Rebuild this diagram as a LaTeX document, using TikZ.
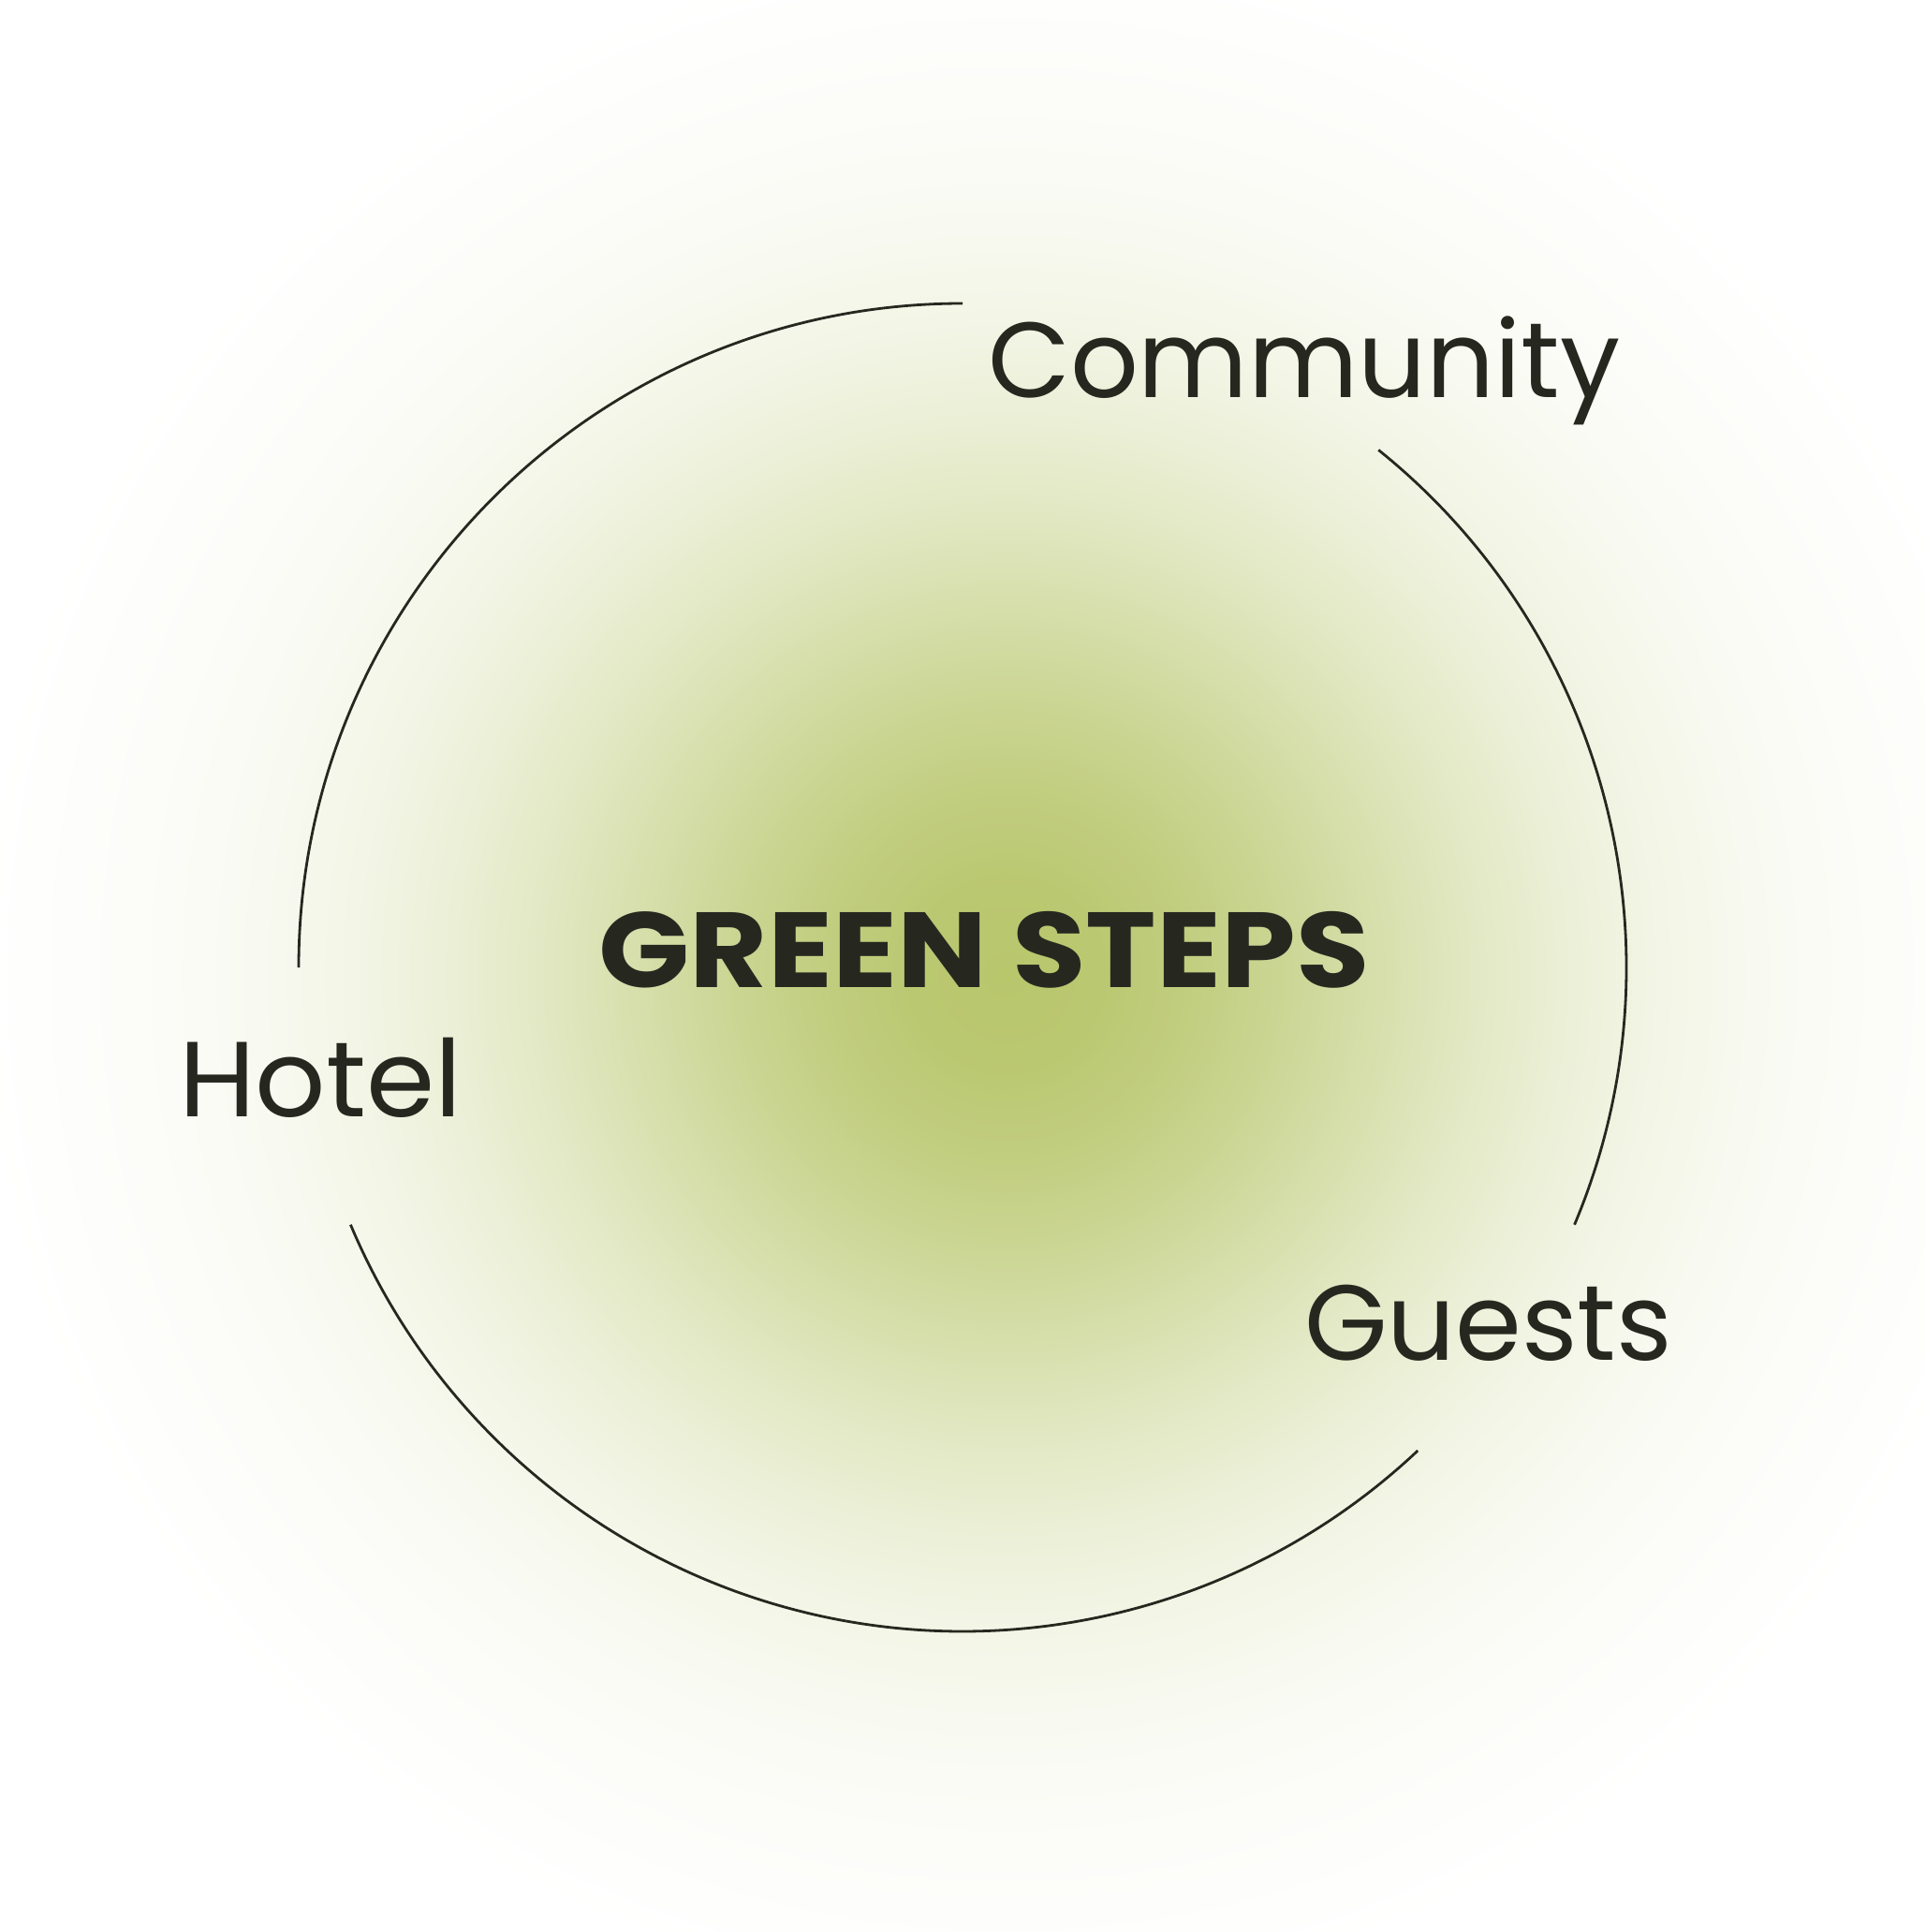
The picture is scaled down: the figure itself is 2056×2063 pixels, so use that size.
\documentclass[tikz,border=0pt]{standalone}
\usepackage{fontspec}
\setmainfont{Poppins}
\definecolor{ink}{RGB}{38,40,32}
\pgfdeclareradialshading{glow}{\pgfpoint{0bp}{0bp}}{%
rgb(0bp)=(0.7216,0.7765,0.4235);
rgb(2.273bp)=(0.7316,0.7845,0.4443);
rgb(4.545bp)=(0.7592,0.8067,0.5013);
rgb(6.818bp)=(0.7993,0.8389,0.5843);
rgb(9.091bp)=(0.8441,0.8748,0.6772);
rgb(11.364bp)=(0.8875,0.9097,0.7671);
rgb(13.636bp)=(0.9246,0.9394,0.8438);
rgb(15.909bp)=(0.9530,0.9622,0.9026);
rgb(18.182bp)=(0.9727,0.9781,0.9435);
rgb(20.455bp)=(0.9852,0.9882,0.9694);
rgb(22.727bp)=(0.9925,0.9940,0.9844);
rgb(25bp)=(1,1,1);
rgb(50bp)=(1,1,1)}
\tikzset{
  label/.style={inner sep=0pt, outer sep=0pt, text=ink, font=\fontsize{114}{130}\selectfont},
  title/.style={label, font=\fontsize{114}{130}\selectfont\bfseries},
  ring/.style={draw=ink, line width=2.8pt}
}
\begin{document}
\begin{tikzpicture}[x=1pt,y=-1pt]
\useasboundingbox (0,0) rectangle (2056,2063);
\fill[white] (0,0) rectangle (2056,2063);
\begin{scope}
\clip (0,0) rectangle (2056,2063);
\shade[shading=glow] (1075,1040) circle (1100pt);
\end{scope}
\coordinate (c) at (1028,1033);
% arcs
\draw[ring] ([shift={(90:709pt)}]c) arc[start angle=90, end angle=180, radius=709pt];
\draw[ring] ([shift={(51.2:709pt)}]c) arc[start angle=51.2, end angle=-22.8, radius=709pt];
\draw[ring] ([shift={(-46.7:709pt)}]c) arc[start angle=-46.7, end angle=-157.2, radius=709pt];
% labels
\node[label, anchor=base west] (community) at (1055,424) {Community};
\node[label, anchor=base west] (hotel) at (191,1192) {\scalebox{1.035}[1]{Hotel}};
\node[label, anchor=base west] (guests) at (1393,1452) {Guests};
\node[title, anchor=base] (green) at (1051,1054) {\scalebox{1.12}[1]{GREEN STEPS}};
\end{tikzpicture}
\end{document}
